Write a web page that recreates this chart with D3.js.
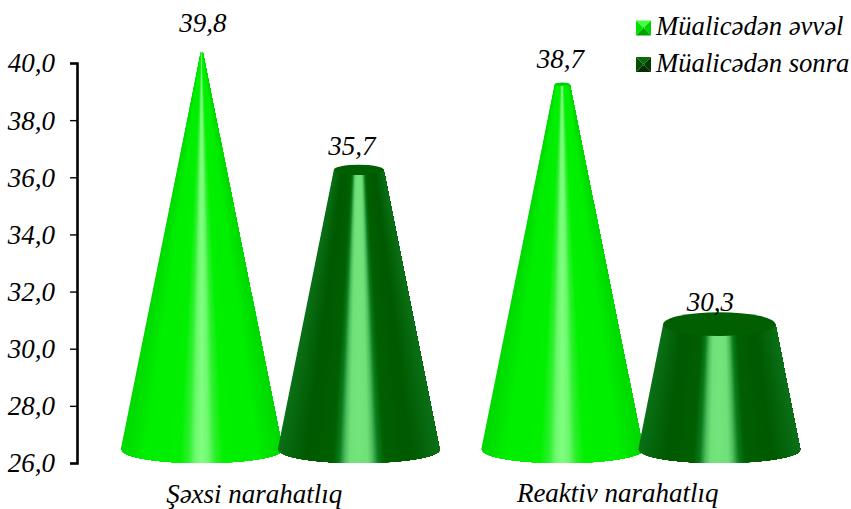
<!DOCTYPE html>
<html><head><meta charset="utf-8">
<script src="https://cdn.jsdelivr.net/npm/d3@7"></script>
<style>
html,body{margin:0;padding:0;background:#fff}
text{font-family:"Liberation Serif",serif;font-style:italic;fill:#000}
</style></head><body>
<svg id="c" width="851" height="509"></svg>
<script>
const categories = ["Şəxsi narahatlıq", "Reaktiv narahatlıq"];
const seriesNames = ["Müalicədən əvvəl", "Müalicədən sonra"];
const before = [39.8, 38.7];
const after = [35.7, 30.3];
const yTicks = [26, 28, 30, 32, 34, 36, 38, 40];

const seriesValues = [before, after];
const fmt = v => d3.format(".1f")(v).replace(".", ",");
const svg = d3.select("#c");

const y = d3.scaleLinear().domain([26, 40]).range([463, 63]);
const x = d3.scaleBand().domain(categories).range([100, 821]);
const xInner = d3.scalePoint().domain(seriesNames).range([-78.5, 78.5]);
const baseR = 81, depth = 13.5, topLift = 16, apexValue = 40;
const radius = v => baseR * (apexValue - v) / (apexValue - y.domain()[0]);

const palettes = [
  {stops: [[0,"#00d800"],[.3,"#00ee00"],[.72,"#00f000"],[.84,"#30f030"],[.92,"#70f870"],[1,"#80ff80"]], top: "#00d000"},
  {stops: [[0,"#0c7018"],[.35,"#005a00"],[.68,"#006000"],[.76,"#0c7c1c"],[.83,"#50c060"],[.89,"#70e078"],[1,"#74e47c"]], top: "#005f00"}
];

function shade(p, t) {
  const s = p.stops;
  for (let i = 1; i < s.length; i++) if (t <= s[i][0]) {
    return d3.interpolateRgb(s[i-1][1], s[i][1])((t - s[i-1][0]) / (s[i][0] - s[i-1][0]));
  }
  return s[s.length-1][1];
}

function drawCone(g, cx, v, p) {
  const bottom = y(y.domain()[0]) - depth, top = y(v) - topLift;
  const rb = baseR, rt = radius(v);
  const ryb = depth, ryt = rt * 0.21;
  const n = 200;
  // front surface as a set of strips, painted left to right, each one reaching to the right edge
  const onRim = (u, r, cy, ry) => [cx + r * u, cy + ry * Math.sqrt(Math.max(0, 1 - u * u))];
  for (let i = 0; i < n; i++) {
    const u0 = -1 + 2 * i / n;
    const um = u0 + 1 / n;
    const pts = [];
    for (let k = 0; k <= 24; k++) { const u = u0 + (1 - u0) * k / 24; pts.push(onRim(u, rt, top, ryt)); }
    for (let k = 24; k >= 0; k--) { const u = u0 + (1 - u0) * k / 24; pts.push(onRim(u, rb, bottom, ryb)); }
    g.append("polygon").attr("points", pts.join(" ")).attr("fill", shade(p, 1 - Math.abs(um)));
  }
  g.append("ellipse").attr("cx", cx).attr("cy", top).attr("rx", rt).attr("ry", ryt).attr("fill", p.top);
}

categories.forEach((cat, ci) => {
  seriesNames.forEach((s, si) => {
    const cx = x(cat) + x.bandwidth() / 2 + xInner(s);
    drawCone(svg.append("g"), cx, seriesValues[si][ci], palettes[si]);
  });
});

// axis
const axis = svg.append("g").attr("transform", "translate(77,0)")
  .call(d3.axisLeft(y).tickValues(yTicks).tickFormat(fmt).tickSize(7).tickPadding(15));
axis.select(".domain").attr("stroke", "#000").attr("stroke-width", 2.6);
axis.selectAll(".tick line").attr("stroke", "#000").attr("stroke-width", 1.4);
axis.selectAll(".tick text").attr("font-size", 27).attr("dy", "0.33em");
axis.attr("font-family", null).attr("font-size", null);

// value labels
const labelNudge = [[[1, -37], [-7, -31]], [[-2, -32], [-9, -29]]];
categories.forEach((cat, ci) => {
  seriesNames.forEach((s, si) => {
    const v = seriesValues[si][ci];
    const cx = x(cat) + x.bandwidth() / 2 + xInner(s);
    svg.append("text").attr("x", cx + labelNudge[ci][si][0]).attr("y", y(v) + labelNudge[ci][si][1])
      .attr("text-anchor", "middle").attr("font-size", 27).text(fmt(v));
  });
});

// category labels
categories.forEach((cat, ci) => {
  svg.append("text").attr("x", x(cat) + x.bandwidth() / 2 + (ci ? -23 : -26)).attr("y", ci ? 502 : 503)
    .attr("text-anchor", "middle").attr("font-size", 27).text(cat);
});

// legend
const legendCols = [["#40ff40","#00e000","#00a000","#00d000"],["#0a6a0a","#005000","#002c00","#003c00"]];
seriesNames.forEach((s, i) => {
  const ly = d3.scalePoint().domain(seriesNames).range([28, 64.5])(s);
  const g = svg.append("g").attr("transform", `translate(643.5,${ly})`);
  const h = 7.5, m = 1;
  const col = legendCols[i];
  const faces = [
    [[-h,-h],[h,-h],[m,-m],[-m,-m]],
    [[h,-h],[h,h],[m,m],[m,-m]],
    [[-h,h],[h,h],[m,m],[-m,m]],
    [[-h,-h],[-h,h],[-m,m],[-m,-m]]
  ];
  [col[0], col[3], col[2], col[1]].forEach((c, j) => g.append("polygon").attr("points", faces[j].join(" ")).attr("fill", c));
  g.append("rect").attr("x", -m).attr("y", -m).attr("width", 2*m).attr("height", 2*m).attr("fill", col[3]);
  svg.append("text").attr("x", 656).attr("y", ly + 7).attr("font-size", 26.7).text(s);
});
</script>
</body></html>
